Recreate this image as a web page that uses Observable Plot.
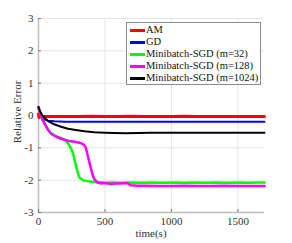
<!DOCTYPE html>
<html><head><meta charset="utf-8">
<script src="https://cdn.jsdelivr.net/npm/d3@7"></script>
<script src="https://cdn.jsdelivr.net/npm/@observablehq/plot@0.6"></script>
<style>
body{margin:0;background:#fff;}
#wrap{position:relative;width:292px;height:243px;font-family:"Liberation Serif","Times New Roman",serif;color:#333;}
#legend{position:absolute;left:126px;top:22px;width:133px;height:61px;border:1px solid #8a8a8a;background:#fff;font-size:10.5px;color:#111;}
.row{position:absolute;left:0;height:12px;line-height:12px;white-space:nowrap;}
.sw{position:absolute;left:3px;top:5px;width:15px;height:2.5px;}
.lb{position:absolute;left:19px;top:0;}
</style></head>
<body><div id="wrap"></div>
<script>
const seriesNames = ["AM","GD","Minibatch-SGD (m=32)","Minibatch-SGD (m=128)","Minibatch-SGD (m=1024)"];
const seriesColors = ["#ff0000","#0000ff","#00ff00","#ff00ff","#000000"];
const seriesWidths = [3,2,2.5,2.5,2];

const tAM = [0,4,8,20,50,100,200,300,400,500,600,700,800,900,1000,1100,1200,1300,1400,1500,1600,1700];
const vAM = [0.05,-0.06,-0.05,-0.04,-0.03,-0.03,-0.03,-0.03,-0.02,-0.03,-0.03,-0.02,-0.03,-0.03,-0.03,-0.02,-0.03,-0.03,-0.03,-0.03,-0.03,-0.03];

const tGD = [0,10,20,40,70,120,200,300,400,500,600,800,1000,1200,1400,1600,1700];
const vGD = [0.25,0.1,0.0,-0.12,-0.16,-0.18,-0.19,-0.19,-0.19,-0.19,-0.19,-0.19,-0.19,-0.19,-0.19,-0.19,-0.19];

const t32 = [0,10,25,47,70,97,130,172,197,215,232,247,262,272,285,295,305,317,340,367,400,442,500,560,620,700,780,860,940,1020,1100,1180,1260,1340,1420,1500,1580,1660,1700];
const v32 = [0.26,0.1,-0.08,-0.26,-0.43,-0.56,-0.64,-0.70,-0.76,-0.82,-0.92,-1.04,-1.2,-1.4,-1.6,-1.75,-1.9,-1.95,-2.01,-2.03,-2.05,-2.06,-2.08,-2.07,-2.08,-2.07,-2.08,-2.07,-2.08,-2.07,-2.08,-2.07,-2.08,-2.07,-2.08,-2.07,-2.08,-2.07,-2.07];

const t128 = [0,10,25,47,70,97,130,172,222,270,317,340,355,365,380,393,405,420,442,467,500,542,580,617,667,692,750,800,900,1000,1100,1200,1300,1400,1500,1600,1700];
const v128 = [0.26,0.1,-0.08,-0.26,-0.43,-0.57,-0.65,-0.72,-0.78,-0.81,-0.85,-0.9,-0.98,-1.15,-1.4,-1.62,-1.81,-1.97,-2.07,-2.10,-2.09,-2.12,-2.10,-2.10,-2.09,-2.16,-2.17,-2.17,-2.18,-2.18,-2.17,-2.18,-2.18,-2.17,-2.18,-2.18,-2.18];

const t1024 = [0,10,25,47,75,122,170,222,280,347,420,500,572,650,750,842,1000,1200,1400,1600,1700];
const v1024 = [0.26,0.15,0.03,-0.08,-0.18,-0.28,-0.35,-0.41,-0.45,-0.49,-0.52,-0.53,-0.54,-0.55,-0.54,-0.53,-0.53,-0.53,-0.53,-0.53,-0.53];

const xTicks = [0,500,1000,1500];
const yTicks = [-3,-2,-1,0,1,2,3];

const allT = [tAM,tGD,t32,t128,t1024];
const allV = [vAM,vGD,v32,v128,v1024];
const lineMarks = allT.map((ts,i)=>Plot.line(ts.map((t,j)=>({t, v: allV[i][j]})), {x:"t", y:"v", stroke: seriesColors[i], strokeWidth: seriesWidths[i], strokeLinejoin:"round"}));

const chart = Plot.plot({
  width: 292, height: 243,
  marginLeft: 38, marginRight: 28, marginTop: 18, marginBottom: 31,
  style: {fontFamily: '"Liberation Serif","Times New Roman",serif', fontSize: "11px", background: "#fff", color: "#333"},
  x: {domain: [0,1700], ticks: xTicks, label: null},
  y: {domain: [-3,3], ticks: yTicks, label: null},
  marks: [
    Plot.gridX(xTicks, {stroke: "#e6e6e6", strokeOpacity: 1}),
    Plot.gridY(yTicks, {stroke: "#e6e6e6", strokeOpacity: 1}),
    Plot.ruleX([0], {stroke: "#bdbdbd", strokeWidth: 1.5}),
    Plot.ruleY([-3], {stroke: "#bdbdbd", strokeWidth: 1.5}),
    Plot.axisX(xTicks, {tickSize: -3, tickFormat: () => "", stroke: "#777", label: null}),
    Plot.axisY(yTicks, {tickSize: -3, tickFormat: () => "", stroke: "#777", label: null}),
    Plot.axisX(xTicks, {tickSize: 0, tickPadding: 5, tickFormat: d => String(d), fontSize: 11, label: null}),
    Plot.axisY(yTicks, {tickSize: 0, tickPadding: 5, tickFormat: d => String(d), fontSize: 11, label: null}),
    ...lineMarks
  ]
});
const wrap = document.getElementById("wrap");
wrap.appendChild(chart);

const xl = document.createElement("div");
xl.textContent = "time(s)";
xl.style.cssText = "position:absolute;left:0;width:292px;text-align:center;top:227px;font-size:11px;padding-left:10px;box-sizing:border-box;";
wrap.appendChild(xl);
const yl = document.createElement("div");
yl.textContent = "Relative Error";
yl.style.cssText = "position:absolute;left:17px;top:112px;font-size:11px;white-space:nowrap;transform:translate(-50%,-50%) rotate(-90deg);";
wrap.appendChild(yl);

const lg = document.createElement("div");
lg.id = "legend";
seriesNames.forEach((n,i)=>{
  const r = document.createElement("div");
  r.className = "row"; r.style.top = (1 + i*12) + "px";
  const s = document.createElement("div"); s.className = "sw"; s.style.background = seriesColors[i];
  const l = document.createElement("div"); l.className = "lb"; l.textContent = n;
  r.appendChild(s); r.appendChild(l); lg.appendChild(r);
});
wrap.appendChild(lg);
</script>
</body></html>
